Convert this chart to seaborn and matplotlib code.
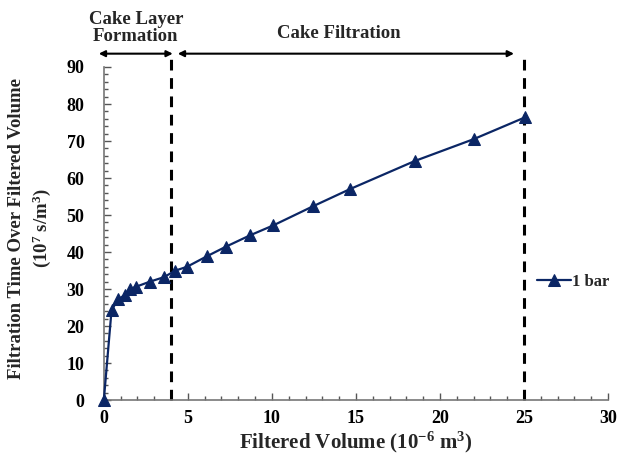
import matplotlib
matplotlib.use("Agg")
import matplotlib.pyplot as plt
import seaborn as sns
import pandas as pd
from matplotlib.ticker import MultipleLocator

volume = [0, 0.46, 0.85, 1.25, 1.55, 1.9, 2.74, 3.57, 4.26, 4.94, 6.15, 7.24,
          8.69, 10.08, 12.46, 14.64, 18.5, 22.0, 25.06]
ratio = [0, 24.3, 27.2, 28.4, 30.0, 30.6, 32.0, 33.2, 35.0, 36.0, 38.9, 41.4,
         44.5, 47.2, 52.4, 57.0, 64.6, 70.5, 76.4]
series_name = "1 bar"
boundaries = [4, 25]
region_labels = ["Cake Layer\nFormation", "Cake Filtration"]

df = pd.DataFrame({"Volume": volume, "Ratio": ratio, "Series": series_name})

sns.set_style("white")
plt.rcParams['font.family'] = ['Liberation Serif', 'DejaVu Serif']
plt.rcParams['font.weight'] = 'bold'
plt.rcParams['mathtext.fontset'] = 'custom'
plt.rcParams['mathtext.rm'] = 'Liberation Serif:bold'
plt.rcParams['mathtext.it'] = 'Liberation Serif:bold'
plt.rcParams['mathtext.bf'] = 'Liberation Serif:bold'

color = '#0b2665'
fig = plt.figure(figsize=(6.18, 4.62), dpi=100)
ax = fig.add_axes([0.168, 0.134, 0.816, 0.721])

sns.lineplot(data=df, x="Volume", y="Ratio", hue="Series", palette=[color],
             marker='^', markersize=8, markeredgecolor=color, linewidth=1.6,
             ax=ax, clip_on=False, zorder=3)

ax.set_xlim(0, 30)
ax.set_ylim(0, 90)
ax.xaxis.set_major_locator(MultipleLocator(5))
ax.xaxis.set_minor_locator(MultipleLocator(1))
ax.yaxis.set_major_locator(MultipleLocator(10))
ax.yaxis.set_minor_locator(MultipleLocator(2))
ax.tick_params(which='both', direction='in', colors='#555555', labelcolor='black',
               labelsize=13)
ax.tick_params(which='major', length=5, width=1)
ax.tick_params(which='minor', length=3, width=1)
ax.tick_params(axis='x', which='both', bottom=True, pad=7)
ax.tick_params(axis='y', which='both', left=True, pad=14)
for s in ['top', 'right']:
    ax.spines[s].set_visible(False)
for s in ['left', 'bottom']:
    ax.spines[s].set_color('#777777')
    ax.spines[s].set_linewidth(1.2)
for lbl in ax.get_xticklabels() + ax.get_yticklabels():
    lbl.set_fontweight('bold')

ax.set_xlabel("Filtered Volume (10$^{-6}$ m$^{3}$)", fontsize=15, fontweight='bold', labelpad=2)
ax.set_ylabel("Filtration Time Over Filtered Volume\n(10$^{7}$ s/m$^{3}$)", fontsize=13.5,
              fontweight='bold', linespacing=1.35)
ax.yaxis.set_label_coords(-0.10, 0.515)

trans = ax.get_xaxis_transform()
for b in boundaries:
    ax.plot([b, b], [0, 1.04], transform=trans, color='black', linestyle=(0, (3.5, 2.5)),
            linewidth=2.2, clip_on=False, zorder=2)

arrow_y = 1.04
ax.annotate('', xy=(-0.3, arrow_y), xytext=(4.1, arrow_y), xycoords=trans, textcoords=trans,
            arrowprops=dict(arrowstyle='<|-|>', color='black', lw=1.5, mutation_scale=9,
                            shrinkA=0, shrinkB=0))
ax.annotate('', xy=(4.4, arrow_y), xytext=(24.4, arrow_y), xycoords=trans, textcoords=trans,
            arrowprops=dict(arrowstyle='<|-|>', color='black', lw=1.5, mutation_scale=9,
                            shrinkA=0, shrinkB=0))
ax.text(1.9, 1.065, region_labels[0], transform=trans, ha='center', va='bottom',
        fontsize=13.5, fontweight='bold', linespacing=1.0)
ax.text(14.0, 1.075, region_labels[1], transform=trans, ha='center', va='bottom',
        fontsize=13.5, fontweight='bold')

leg = ax.legend(loc='center left', bbox_to_anchor=(0.83, 0.355), frameon=False,
                handlelength=2.0, handletextpad=0.05,
                prop={'weight': 'bold', 'size': 12})

fig.savefig("out.png", dpi=100)
